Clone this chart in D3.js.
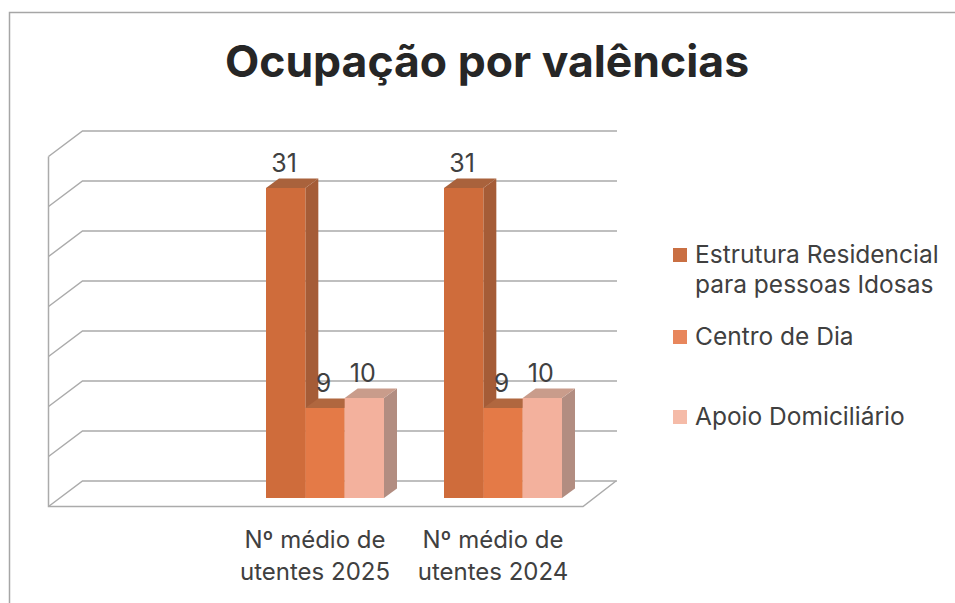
<!DOCTYPE html>
<html lang="pt">
<head>
<meta charset="utf-8">
<title>Ocupação por valências</title>
<script src="https://cdn.jsdelivr.net/npm/d3@7/dist/d3.min.js"></script>
<style>
html,body{margin:0;padding:0;background:#fff;overflow:hidden}
svg{display:block}
</style>
</head>
<body>
<svg id="chart" width="955" height="603"></svg>
<script>
const chartTitle = "Ocupação por valências";
const categories = ["", "2025", "2024"];
const categoryLines = [[], ["Nº médio de", "utentes 2025"], ["Nº médio de", "utentes 2024"]];
const seriesNames = ["Estrutura Residencial para pessoas Idosas", "Centro de Dia", "Apoio Domiciliário"];
const seriesLegendLines = [["Estrutura Residencial", "para pessoas Idosas"], ["Centro de Dia"], ["Apoio Domiciliário"]];
const estruturaValues = [null, 31, 31];
const centroValues = [null, 9, 9];
const apoioValues = [null, 10, 10];
const gridTicks = [0, 5, 10, 15, 20, 25, 30, 35];

const seriesValues = [estruturaValues, centroValues, apoioValues];
const frontColors = ["#cf6c3b", "#e47a47", "#f3b19d"];
const topColors = ["#a9623c", "#b0673f", "#c99c8b"];
const sideColors = ["#a55c37", "#a55c37", "#b28d81"];
const swatchColors = ["#c96f43", "#e8865c", "#f5bba8"];
const textColor = "#404040";
const gridColor = "#ababab";
const bodyFont = "Inter, 'Liberation Sans', sans-serif";

const svg = d3.select("#chart");

// frame
svg.append("path")
  .attr("d", "M955,12.5H9.5V603")
  .attr("fill", "none").attr("stroke", "#a6a6a6").attr("stroke-width", 1.5);

// title
svg.append("text")
  .attr("x", 487).attr("y", 77)
  .attr("text-anchor", "middle")
  .attr("font-family", bodyFont).attr("font-weight", 700)
  .attr("font-size", 44.5).attr("fill", "#262626")
  .text(chartTitle);

// 3D projection: front plane and back wall offset
const wallDx = 34, wallDy = -25.5;
const y = d3.scaleLinear().domain([0, 35]).range([506.5, 156.5]);
const x = d3.scaleBand().domain(categories).range([49, 583]);

const walls = svg.append("g").attr("fill", "none").attr("stroke", gridColor).attr("stroke-width", 1.5);
gridTicks.forEach(t => {
  const yf = y(t), yb = yf + wallDy;
  walls.append("path").attr("d", `M${x.range()[0] - 0.5},${yf}L${x.range()[0] + wallDx - 0.5},${yb}H617`);
});
walls.append("path").attr("d", `M${x.range()[0] - 0.5},${y(35)}V${y(0)}H${x.range()[1]}L${x.range()[1] + wallDx - 1},${y(0) + wallDy}`);

// bars, placed a third of the way into the floor depth
const barDx = 9, barDy = -8.5, depthX = 13, depthY = -9.5;
const groupHalf = 59;
const barsLayer = svg.append("g");
const labelsLayer = svg.append("g");
categories.forEach((cat, ci) => {
  const c = x(cat) + x.bandwidth() / 2 + barDx;
  const inner = d3.scaleBand().domain(d3.range(seriesNames.length)).range([c - groupHalf, c + groupHalf]);
  seriesValues.forEach((vals, si) => {
    const v = vals[ci];
    if (v == null) return;
    const x0 = inner(si), x1 = x0 + inner.bandwidth();
    const yt = y(v) + barDy, yb = y(0) + barDy;
    const g = barsLayer.append("g");
    g.append("path").attr("fill", sideColors[si])
      .attr("d", `M${x1},${yt}L${x1 + depthX},${yt + depthY}V${yb + depthY}L${x1},${yb}Z`);
    g.append("path").attr("fill", topColors[si])
      .attr("d", `M${x0},${yt}L${x0 + depthX},${yt + depthY}H${x1 + depthX}L${x1},${yt}Z`);
    g.append("rect").attr("fill", frontColors[si])
      .attr("x", x0).attr("y", yt).attr("width", x1 - x0).attr("height", yb - yt);
    labelsLayer.append("text")
      .attr("x", (x0 + x1) / 2 - 1.5).attr("y", yt - 16)
      .attr("text-anchor", "middle")
      .attr("font-family", bodyFont).attr("font-size", 25).attr("fill", textColor)
      .text(v);
  });
});

// category labels
categories.forEach((cat, ci) => {
  const t = svg.append("text")
    .attr("text-anchor", "middle")
    .attr("font-family", bodyFont).attr("font-size", 24).attr("fill", textColor);
  categoryLines[ci].forEach((line, li) => {
    t.append("tspan")
      .attr("x", x(cat) + x.bandwidth() / 2 - 1)
      .attr("y", 548 + li * 32)
      .text(line);
  });
});

// legend
const legendTops = [248, 330, 410];
seriesNames.forEach((name, si) => {
  svg.append("rect")
    .attr("x", 673).attr("y", legendTops[si])
    .attr("width", 14).attr("height", 14)
    .attr("fill", swatchColors[si]);
  const t = svg.append("text")
    .attr("font-family", bodyFont).attr("font-size", 24.5).attr("fill", textColor);
  seriesLegendLines[si].forEach((line, li) => {
    t.append("tspan")
      .attr("x", 695)
      .attr("y", legendTops[si] + 15 + li * 30)
      .text(line);
  });
});
</script>
</body>
</html>
